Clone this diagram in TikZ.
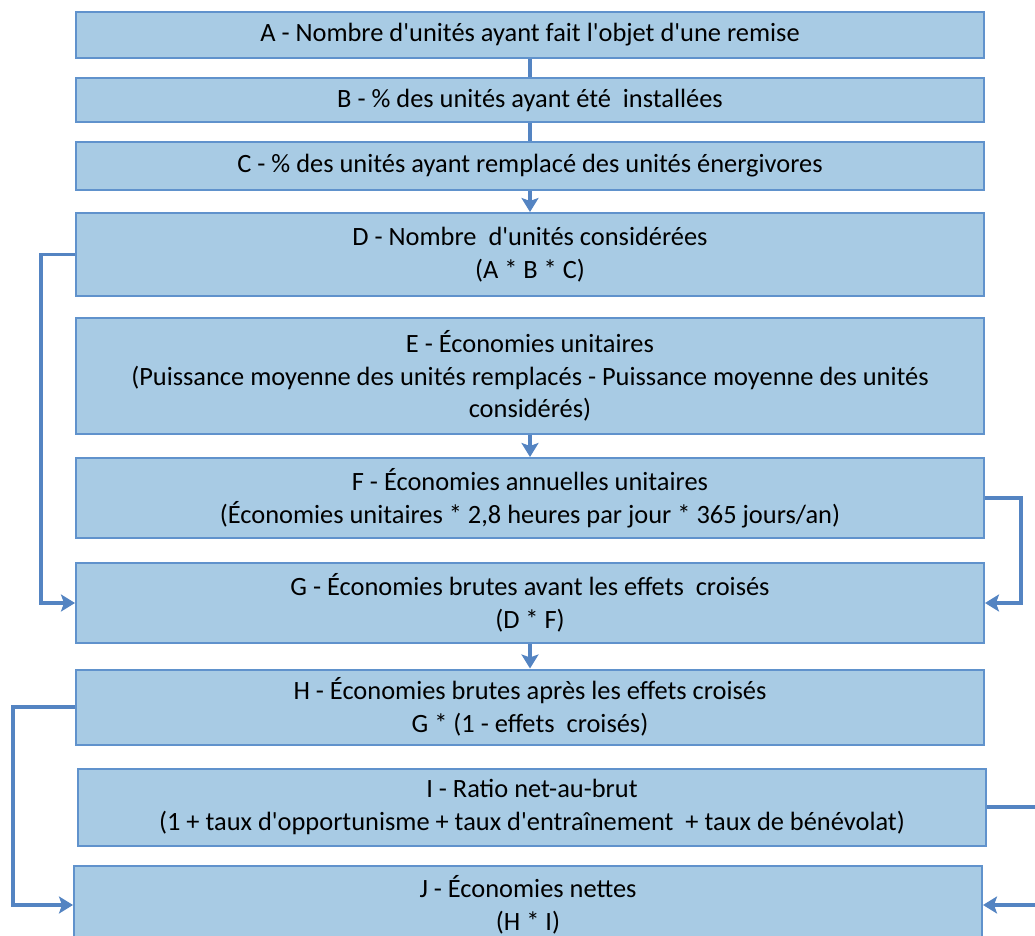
\documentclass[tikz,border=0pt]{standalone}
\usepackage{fontspec}
\setmainfont{Carlito}[Ligatures=TeXOff]
\usetikzlibrary{arrows.meta}
\definecolor{boxfill}{RGB}{168,203,228}
\definecolor{boxline}{RGB}{96,146,204}
\definecolor{linkblue}{RGB}{84,132,194}

\begin{document}
\begin{tikzpicture}[x=0.5pt,y=-0.5pt]

% ---------- common style ----------
\tikzstyle{calc}=[draw=boxline,fill=boxfill,line width=1pt,minimum width=454pt,
  inner sep=0pt,align=center,font=\fontsize{13.2}{16.3}\selectfont]
\tikzstyle{link}=[draw=linkblue,line width=1.75pt]
\tikzstyle{flow}=[link,-{Stealth[length=7pt,width=8.5pt,inset=1.5pt]}]

% frame of the page
\clip (0,0) rectangle (1035,936);

% ================== calculation boxes ==================
\node[calc,minimum height=23pt]   (A) at (530,35)  {A - Nombre d'unités ayant fait l'objet d'une remise};
\node[calc,minimum height=22pt]   (B) at (530,100) {B - \% des unités ayant été \ installées};
\node[calc,minimum height=24pt]   (C) at (530,166) {C - \% des unités ayant remplacé des unités énergivores};
\node[calc,minimum height=41.5pt] (D) at (530,254.5) {D - Nombre \ d'unités considérées\\(A * B * C)};
\node[calc,minimum height=58pt]   (E) at (530,376) {E - Économies unitaires\\(Puissance moyenne des unités remplacés - Puissance moyenne des unités\\considérés)};
\node[calc,minimum height=40pt]   (F) at (530,498) {F - Économies annuelles unitaires\\(Économies unitaires * 2,8 heures par jour * 365 jours/an)};
\node[calc,minimum height=40pt]   (G) at (530,603) {G - Économies brutes avant les effets \ croisés\\(D * F)};
\node[calc,minimum height=37.5pt] (H) at (530,707) {H - Économies brutes après les effets croisés\\G * (1 - effets \ croisés)};
\node[calc,minimum height=38.5pt] (I) at (532,807) {I - Ratio net-au-brut\\(1 + taux d'opportunisme + taux d'entraînement \ + taux de bénévolat)};
\node[calc,minimum height=39pt]   (J) at (528,905) {J - Économies nettes\\(H * I)};

% ================== straight links ==================
\draw[link] (A) -- (B);
\draw[link] (B) -- (C);
\draw[flow] (C) -- (D);
\draw[flow] (E) -- (F);
\draw[flow] (G) -- (H);

% ================== side links ==================
\draw[flow] (D.west) -- ++(-34,0) |- (G.west);
\draw[flow] (F.east) -- ++(36,0) |- (G.east);
\draw[flow] (H.west) -- ++(-62,0) |- (J.west);
\draw[flow] (I.east) -- ++(60,0) |- (J.east);

\end{tikzpicture}
\end{document}
